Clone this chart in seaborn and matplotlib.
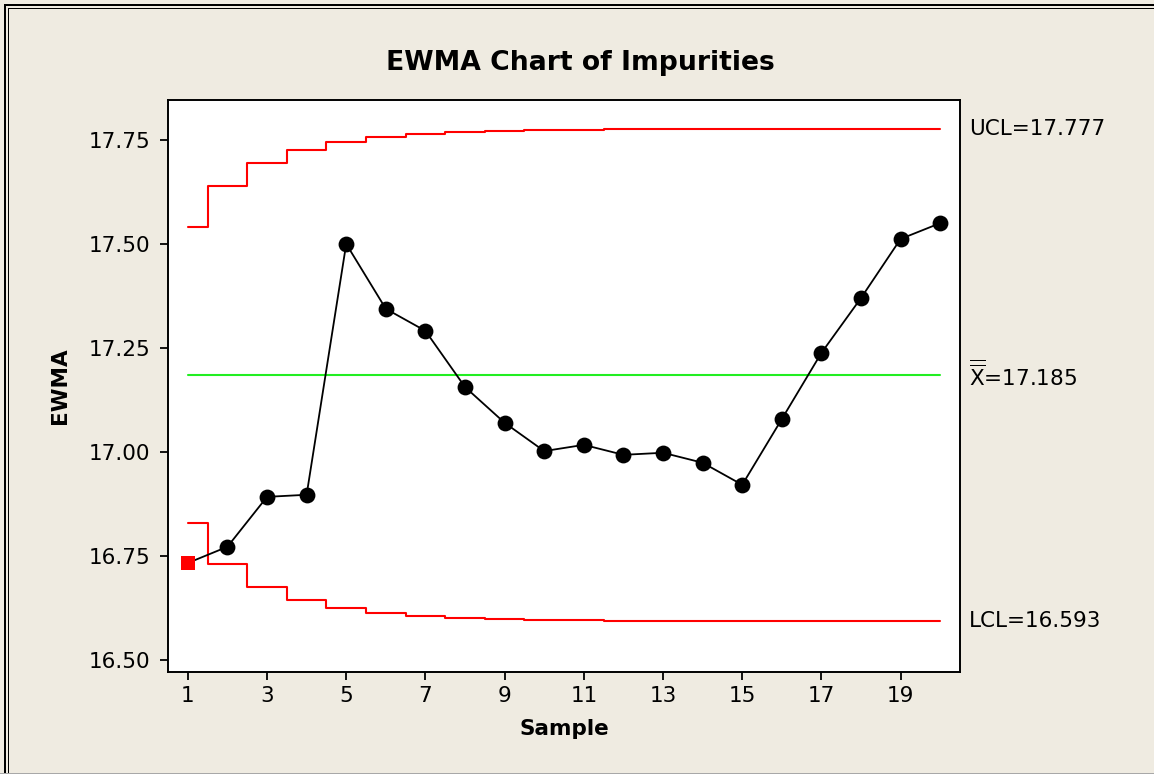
import numpy as np
import matplotlib
matplotlib.use("Agg")
import matplotlib.pyplot as plt
import matplotlib.transforms as mtransforms
from matplotlib.patches import Rectangle
import seaborn as sns

# EWMA values (lambda = 0.2)
samples = list(range(1, 21))
ewma = [16.733, 16.772, 16.892, 16.897, 17.500, 17.344, 17.291, 17.156, 17.070, 17.002,
        17.017, 16.993, 16.998, 16.974, 16.921, 17.079, 17.238, 17.370, 17.512, 17.550]
ucl = [17.540, 17.640, 17.694, 17.725, 17.744, 17.756, 17.764, 17.769, 17.772, 17.774,
       17.775, 17.776, 17.777, 17.777, 17.777, 17.777, 17.777, 17.777, 17.777, 17.777]
lcl = [16.830, 16.730, 16.676, 16.645, 16.626, 16.614, 16.606, 16.601, 16.598, 16.596,
       16.595, 16.594, 16.593, 16.593, 16.593, 16.593, 16.593, 16.593, 16.593, 16.593]
center = 17.185
ucl_label = "UCL=17.777"
lcl_label = "LCL=16.593"
center_label = r"$\overline{\overline{\mathregular{X}}}$=17.185"
y_ticks = [16.50, 16.75, 17.00, 17.25, 17.50, 17.75]
x_ticks = list(range(1, 21, 2))

BG = "#EFEBE1"

sns.set_theme(style="ticks")
plt.rcParams["font.family"] = ["DejaVu Sans"]
plt.rcParams["mathtext.fontset"] = "dejavusans"

fig = plt.figure(figsize=(11.54, 7.74), dpi=100, facecolor=BG)
ax = fig.add_axes([0.1456, 0.1318, 0.6863, 0.7390])
ax.set_facecolor("white")

x = np.array(samples)
y = np.array(ewma)

# control limits as stair steps
sns.lineplot(x=x, y=ucl, ax=ax, color="red", lw=1.5, drawstyle="steps-mid")
sns.lineplot(x=x, y=lcl, ax=ax, color="red", lw=1.5, drawstyle="steps-mid")
sns.lineplot(x=x, y=[center] * len(x), ax=ax, color="#22EE22", lw=1.5)

# EWMA line and points
sns.lineplot(x=x, y=y, ax=ax, color="black", lw=1.3)
out = (y > np.array(ucl)) | (y < np.array(lcl))
sns.scatterplot(x=x[~out], y=y[~out], ax=ax, color="black", s=130,
                edgecolor="black", linewidth=0, zorder=4)
sns.scatterplot(x=x[out], y=y[out], ax=ax, color="red", marker="s", s=110,
                edgecolor="red", linewidth=0, zorder=4)

ax.set_xlim(0.5, 20.5)
ax.set_ylim(16.471, 17.846)
ax.set_xticks(x_ticks)
ax.set_yticks(y_ticks)
ax.set_yticklabels([f"{v:.2f}" for v in y_ticks])
ax.tick_params(axis="both", direction="out", length=6, width=1.3,
               labelsize=15.5, colors="black", pad=4)
ax.tick_params(axis="y", pad=7)
for sp in ax.spines.values():
    sp.set_color("black")
    sp.set_linewidth(1.4)

ax.set_xlabel("Sample", fontsize=15.5, fontweight="bold", color="black")
ax.set_ylabel("EWMA", fontsize=15.5, fontweight="bold", color="black")
ax.xaxis.set_label_coords(0.5, -0.083)
ax.yaxis.set_label_coords(-0.136, 0.5)
ax.yaxis.label.set_va("center")
ax.xaxis.label.set_va("top")

fig.text(0.503, 0.919, "EWMA Chart of Impurities", ha="center", va="center",
         fontsize=19.2, fontweight="bold", color="black")

trans = mtransforms.blended_transform_factory(ax.transAxes, ax.transData)
ax.text(1.0114, ucl[-1], ucl_label, transform=trans, va="center", ha="left",
        fontsize=15.5, color="black", clip_on=False)
ax.text(1.0114, lcl[-1], lcl_label, transform=trans, va="center", ha="left",
        fontsize=15.5, color="black", clip_on=False)
ax.text(1.0114, center, center_label, transform=trans, va="center", ha="left",
        fontsize=15.5, color="black", clip_on=False)

# window-like frame: double black line on left and top, grey line at bottom
W, H = 1154, 774
fig.add_artist(Rectangle((4 / W, 0), 2 / W, 1 - 4 / H, transform=fig.transFigure,
                         color="black", lw=0))
fig.add_artist(Rectangle((8 / W, 0), 1.2 / W, 1 - 8 / H, transform=fig.transFigure,
                         color="black", lw=0))
fig.add_artist(Rectangle((4 / W, 1 - 6 / H), 1 - 4 / W, 2 / H, transform=fig.transFigure,
                         color="black", lw=0))
fig.add_artist(Rectangle((8 / W, 1 - 9.2 / H), 1 - 8 / W, 1.2 / H, transform=fig.transFigure,
                         color="black", lw=0))
fig.add_artist(Rectangle((0, 0), 1, 1.5 / H, transform=fig.transFigure,
                         color="#A8A8A8", lw=0))

fig.savefig("out.png", dpi=100, facecolor=BG)
